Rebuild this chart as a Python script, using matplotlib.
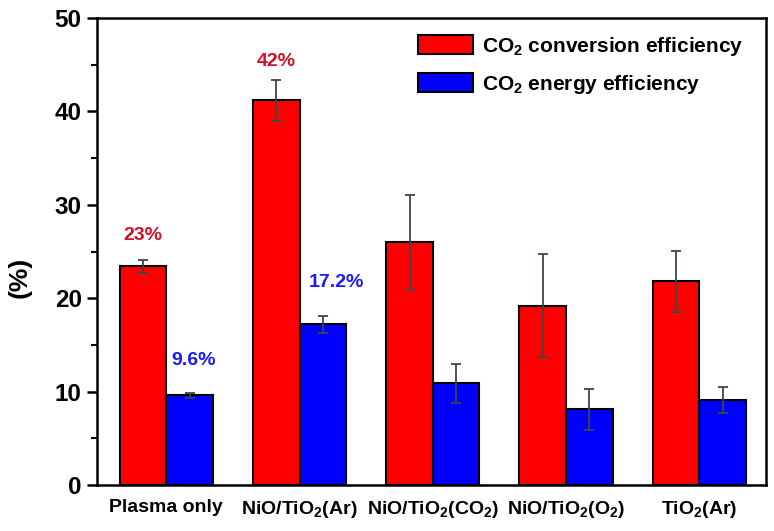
import matplotlib
matplotlib.use("Agg")
import matplotlib.pyplot as plt
import numpy as np

plt.rcParams['font.family'] = 'Liberation Sans'
plt.rcParams['font.weight'] = 'bold'
plt.rcParams['mathtext.fontset'] = 'custom'
plt.rcParams['mathtext.rm'] = 'Liberation Sans:bold'
plt.rcParams['mathtext.it'] = 'Liberation Sans:bold'
plt.rcParams['mathtext.bf'] = 'Liberation Sans:bold'

# data
categories = ['Plasma only', r'NiO/TiO$_2$(Ar)', r'NiO/TiO$_2$(CO$_2$)',
              r'NiO/TiO$_2$(O$_2$)', r'TiO$_2$(Ar)']
conversion = [23.4, 41.2, 26.0, 19.2, 21.8]
conversion_err = [0.7, 2.2, 5.1, 5.5, 3.3]
energy = [9.6, 17.2, 10.9, 8.1, 9.1]
energy_err = [0.25, 0.9, 2.1, 2.2, 1.4]
red_labels = ['23%', '42%']
blue_labels = ['9.6%', '17.2%']

fig = plt.figure(figsize=(7.74, 5.31), dpi=100)
ax = fig.add_axes([0.1253, 0.0866, 0.8644, 0.8794])

x = np.arange(1, len(categories) + 1)
w = 0.35
err_kw = dict(ecolor='#3e4848', elinewidth=1.3, capsize=3.6, capthick=1.3)
ax.bar(x - w / 2, conversion, w, yerr=conversion_err, color='#ff0000',
       edgecolor='black', linewidth=1.5, error_kw=err_kw,
       label=r'CO$_2$ conversion efficiency')
ax.bar(x + w / 2, energy, w, yerr=energy_err, color='#0000ff',
       edgecolor='black', linewidth=1.5, error_kw=err_kw,
       label=r'CO$_2$ energy efficiency')

# percentage annotations (hand-placed above the error caps in the original)
red_gap = [2.6, 1.9]
blue_gap = [3.5, 3.6]
for i, txt in enumerate(red_labels):
    ax.text(x[i] - w / 2, conversion[i] + conversion_err[i] + red_gap[i], txt,
            color='#d0102a', ha='center', va='center', fontsize=14, fontweight='bold')
blue_dx = [0.03, 0.1]
for i, txt in enumerate(blue_labels):
    ax.text(x[i] + w / 2 + blue_dx[i], energy[i] + energy_err[i] + blue_gap[i], txt,
            color='#1a1aff', ha='center', va='center', fontsize=14, fontweight='bold')

ax.set_xlim(0.48, 5.5)
ax.set_ylim(0, 50)
ax.set_xticks(x)
ax.set_xticklabels(categories, fontsize=14, fontweight='bold')
ax.set_yticks(np.arange(0, 51, 10))
ax.set_yticks(np.arange(5, 50, 10), minor=True)
ax.tick_params(axis='y', which='major', direction='out', length=7, width=1.8,
               labelsize=17.5, pad=4)
ax.tick_params(axis='y', which='minor', direction='out', length=4, width=1.5)
ax.tick_params(axis='x', length=0, pad=10)
ax.set_ylabel('(%)', fontsize=19, fontweight='bold')
ax.yaxis.set_label_coords(-0.097, 0.445)
for s in ax.spines.values():
    s.set_linewidth(1.8)

ax.legend(loc='upper left', bbox_to_anchor=(0.48, 0.964), frameon=False,
          fontsize=15, handlelength=2.65, handleheight=1.0, borderaxespad=0,
          borderpad=0, labelspacing=0.72, handletextpad=0.4)

fig.savefig('out.png', dpi=100)
